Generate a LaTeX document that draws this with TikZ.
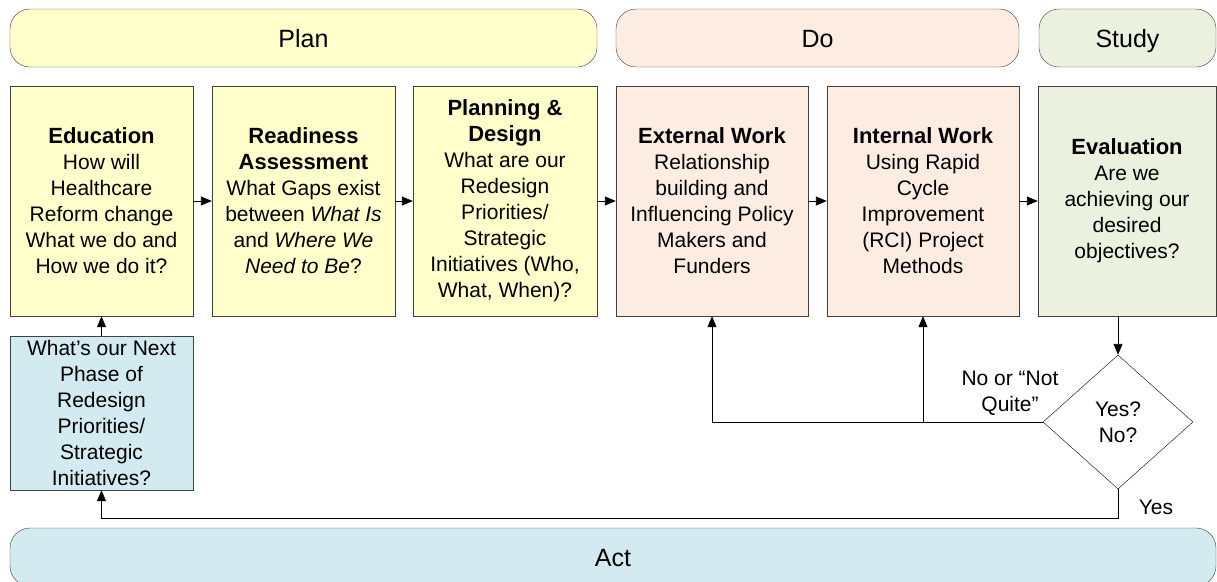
\documentclass[tikz,border=0pt]{standalone}
\usepackage{fontspec}
\setmainfont{Liberation Sans}
\usetikzlibrary{shapes.geometric,arrows.meta}
\definecolor{planyellow}{RGB}{255,255,204}
\definecolor{dopeach}{RGB}{253,236,225}
\definecolor{studygreen}{RGB}{235,241,222}
\definecolor{actblue}{RGB}{210,234,240}
\newcommand\steptitle[1]{{\fontsize{22}{27}\selectfont\bfseries #1}}

\begin{document}
\begin{tikzpicture}[x=1pt,y=-1pt,
    every node/.style={align=center, font=\fontsize{21}{26}\selectfont},
    phase/.style={draw=black!75, rounded corners=20pt, minimum height=58pt,
      text height=18pt, text depth=0pt, font=\fontsize{25}{28}\selectfont},
    stepbox/.style={draw=black!75, minimum height=230pt, inner sep=0pt},
    link/.style={-{Triangle[length=11pt,width=9pt]}, line width=0.9pt}]
    \useasboundingbox (0,0) rectangle (1217,581);
    % phases
    \node[phase, fill=planyellow, minimum width=587pt] (plan) at (303.5,38) {Plan};
    \node[phase, fill=dopeach, minimum width=403pt] (do) at (817.5,38) {Do};
    \node[phase, fill=studygreen, minimum width=177pt] (study) at (1127.5,38) {Study};
    \node[phase, fill=actblue, minimum width=1206pt] (act) at (613,557) {Act};
    % steps
    \node[stepbox, fill=planyellow, minimum width=183pt] (edu) at (101.5,201)
      {\steptitle{Education}\\How will\\Healthcare\\Reform change\\What we do and\\How we do it?};
    \node[stepbox, fill=planyellow, minimum width=183pt] (ready) at (303.5,201)
      {\steptitle{Readiness}\\\steptitle{Assessment}\\What Gaps exist\\between \textit{What Is}\\and \textit{Where We}\\\textit{Need to Be}?};
    \node[stepbox, fill=planyellow, minimum width=184pt] (design) at (505,201)
      {\steptitle{Planning \&}\\\steptitle{Design}\\What are our\\Redesign\\Priorities/\\Strategic\\Initiatives (Who,\\What, When)?};
    \node[stepbox, fill=dopeach, minimum width=192pt] (ext) at (712,201)
      {\steptitle{External Work}\\Relationship\\building and\\Influencing Policy\\Makers and\\Funders};
    \node[stepbox, fill=dopeach, minimum width=192pt] (int) at (923,201)
      {\steptitle{Internal Work}\\Using Rapid\\Cycle\\Improvement\\(RCI) Project\\Methods};
    \node[stepbox, fill=studygreen, minimum width=178pt] (eval) at (1127,201)
      {\steptitle{Evaluation}\\Are we\\achieving our\\desired\\objectives?};
    \node[draw=black!75, fill=actblue, minimum width=183pt, minimum height=154pt, inner sep=0pt] (next) at (101.5,413)
      {What’s our Next\\Phase of\\Redesign\\Priorities/\\Strategic\\Initiatives?};
    \node[diamond, draw, fill=white, minimum width=150pt, minimum height=134pt, inner sep=0pt] (dec) at (1118,422)
      {Yes?\\No?};
    % labels
    \node (nolbl) at (1010,393) {No or “Not\\Quite”};
    \node (yeslbl) at (1156,507) {Yes};
    \coordinate (yesturn) at (1118,518);
    % flow
    \foreach \from/\to in
    {edu/ready,ready/design,design/ext,ext/int,int/eval,next/edu}
    \draw[link] (\from) -- (\to);
    \draw[link] (dec.north |- eval.south) -- (dec.north);
    \draw[link] (dec.west) -| (ext.south);
    \draw[link] (dec.west -| int.south) -- (int.south);
    \draw[link] (dec.south) -- (yesturn) -| (next.south);
\end{tikzpicture}
\end{document}
